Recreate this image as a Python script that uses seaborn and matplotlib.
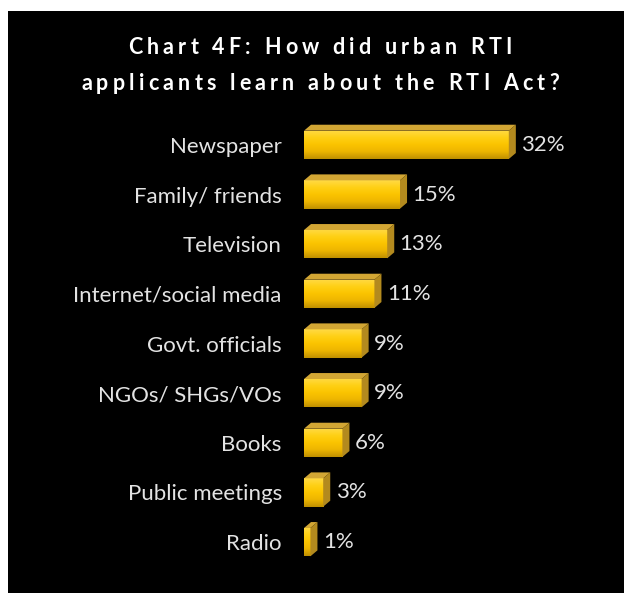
import numpy as np
import pandas as pd
import seaborn as sns
import matplotlib.pyplot as plt
from matplotlib.patches import Polygon, Rectangle
from matplotlib.colors import LinearSegmentedColormap
from matplotlib.font_manager import FontProperties

# data
sources = ["Newspaper", "Family/ friends", "Television", "Internet/social media",
           "Govt. officials", "NGOs/ SHGs/VOs", "Books", "Public meetings", "Radio"]
shares = [32, 15, 13, 11, 9, 9, 6, 3, 1]
title_lines = ["Chart 4F: How did urban RTI", "applicants learn about the RTI Act?"]

df = pd.DataFrame({"source": sources, "share": shares})

sns.set_style("white")
plt.rcParams["font.family"] = ["Lato", "DejaVu Sans"]

W, H = 624, 593
fig = plt.figure(figsize=(W / 100, H / 100), dpi=100)
fig.patch.set_facecolor("white")
# black panel behind the chart
fig.add_artist(Rectangle((8 / W, 0), 1 - 8 / W, 1 - 11 / H,
                         transform=fig.transFigure, facecolor="black",
                         edgecolor="none", zorder=0))

ax = fig.add_axes([304 / W, 26 / H, 256 / W, 447 / H])
ax.set_facecolor("none")

sns.barplot(data=df, x="share", y="source", color="#FAC80A", saturation=1,
            width=0.57, ax=ax, orient="h", linewidth=0, edgecolor="none")

ax.set_xlim(0, 40)
ax.set_ylim(8.5, -0.5)

# vertical gradient on the front faces + fake 3d top and side faces
gold = LinearSegmentedColormap.from_list(
    "gold", ["#FFDA45", "#FFD015", "#FBC400", "#EDB500", "#C09000"])
grad = np.linspace(0, 1, 64).reshape(-1, 1)
dx, dy = 1.1, 0.12
for p in list(ax.patches):
    x0, y0, w, h = p.get_x(), p.get_y(), p.get_width(), p.get_height()
    im = ax.imshow(grad, cmap=gold, aspect="auto", extent=(x0, x0 + w, y0 + h, y0),
                   zorder=2.5, interpolation="bilinear")
    im.set_clip_path(p)
    top = Polygon([(x0, y0), (x0 + dx, y0 - dy), (x0 + w + dx, y0 - dy), (x0 + w, y0)],
                  closed=True, facecolor="#D2A634", edgecolor="none", zorder=3)
    side = Polygon([(x0 + w, y0), (x0 + w + dx, y0 - dy), (x0 + w + dx, y0 + h - dy),
                    (x0 + w, y0 + h)],
                   closed=True, facecolor="#B38A1E", edgecolor="none", zorder=3)
    ax.add_patch(top)
    ax.add_patch(side)

ax.set_xlim(0, 40)
ax.set_ylim(8.5, -0.5)

ax.bar_label(ax.containers[0], labels=[f"{v}%" for v in shares], padding=9,
             color="#E3E3E3", fontsize=16)

ax.set_xlabel("")
ax.set_ylabel("")
ax.set_xticks([])
ax.tick_params(axis="y", length=0, pad=16, labelsize=16, labelcolor="#E3E3E3")
sns.despine(ax=ax, left=True, bottom=True)

# title with letter spacing: place each character by hand
renderer = fig.canvas.get_renderer()
tprop = FontProperties(family="Lato", weight="bold", size=15.5)


def advance(s):
    if not s:
        return 0.0
    w1 = renderer.get_text_width_height_descent(s + "X", tprop, ismath=False)[0]
    w0 = renderer.get_text_width_height_descent("X", tprop, ismath=False)[0]
    return w1 - w0


long_line = title_lines[1]
spacing = (478 - advance(long_line)) / (len(long_line) - 1)
for line, yc in zip(title_lines, [48, 83]):
    total = advance(line) + spacing * (len(line) - 1)
    left = 320 - total / 2
    for i, ch in enumerate(line):
        if ch == " ":
            continue
        xp = left + advance(line[:i]) + spacing * i
        fig.text(xp / W, 1 - yc / H, ch, ha="left", va="center", color="white",
                 fontproperties=tprop)

fig.savefig("out.png", dpi=100, facecolor=fig.get_facecolor())
